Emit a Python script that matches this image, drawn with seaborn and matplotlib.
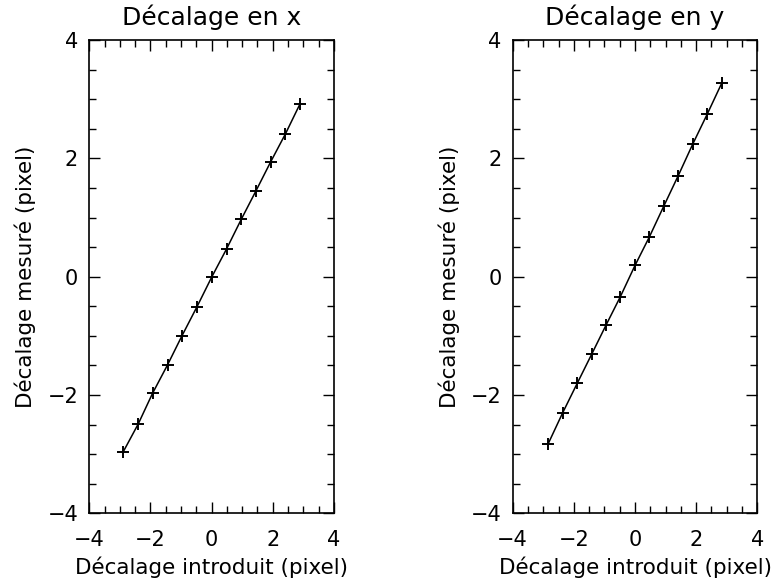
import numpy as np
import matplotlib
matplotlib.use('Agg')
import matplotlib.pyplot as plt
from matplotlib.ticker import MultipleLocator
import seaborn as sns

sns.set_style('ticks')
plt.rcParams['font.family'] = ['DejaVu Sans']
plt.rcParams['text.color'] = 'black'
plt.rcParams['axes.labelcolor'] = 'black'
plt.rcParams['xtick.color'] = 'black'
plt.rcParams['ytick.color'] = 'black'

# Decalage en x
x_intro_x = [-2.89, -2.40, -1.93, -1.44, -0.97, -0.48, 0.01, 0.49, 0.97, 1.44, 1.93, 2.41, 2.89]
y_mes_x = [-2.96, -2.49, -1.97, -1.49, -1.00, -0.51, 0.00, 0.47, 0.97, 1.44, 1.94, 2.41, 2.92]

# Decalage en y
x_intro_y = [-2.835, -2.364, -1.887, -1.416, -0.939, -0.49, 0.0, 0.468, 0.948, 1.416, 1.887, 2.364, 2.835]
y_mes_y = [-2.82, -2.30, -1.80, -1.31, -0.81, -0.35, 0.19, 0.67, 1.20, 1.71, 2.24, 2.75, 3.27]

titles = ['Décalage en x', 'Décalage en y']
xlabel = 'Décalage introduit (pixel)'
ylabel = 'Décalage mesuré (pixel)'

fig = plt.figure(figsize=(7.79, 5.85), dpi=100)
positions = [[0.1146, 0.1225, 0.3141, 0.8091], [0.6581, 0.1225, 0.3141, 0.8091]]
datasets = [(x_intro_x, y_mes_x), (x_intro_y, y_mes_y)]

for pos, (xs, ys), title in zip(positions, datasets, titles):
    ax = fig.add_axes(pos)
    sns.lineplot(x=xs, y=ys, ax=ax, color='black', marker='+', markersize=9,
                 markeredgewidth=1.4, markeredgecolor='black', linewidth=1.1,
                 sort=False, estimator=None)
    ax.set_xlim(-4, 4)
    ax.set_ylim(-4, 4)
    ax.xaxis.set_major_locator(MultipleLocator(2))
    ax.yaxis.set_major_locator(MultipleLocator(2))
    ax.xaxis.set_minor_locator(MultipleLocator(0.5))
    ax.yaxis.set_minor_locator(MultipleLocator(0.5))
    ax.tick_params(which='both', direction='in', top=True, right=True,
                   color='black', width=1)
    ax.tick_params(which='major', length=8, labelsize=15)
    ax.tick_params(axis='x', which='major', pad=12)
    ax.tick_params(axis='y', which='major', pad=8)
    ax.tick_params(which='minor', length=5)
    for s in ax.spines.values():
        s.set_color('black')
        s.set_linewidth(1.2)
    ax.set_title(title, fontsize=18, pad=11)
    ax.set_xlabel(xlabel, fontsize=15.5, labelpad=5)
    ax.set_ylabel(ylabel, fontsize=15.5, labelpad=8)
    ax.grid(False)

fig.savefig('out.png', dpi=100)
